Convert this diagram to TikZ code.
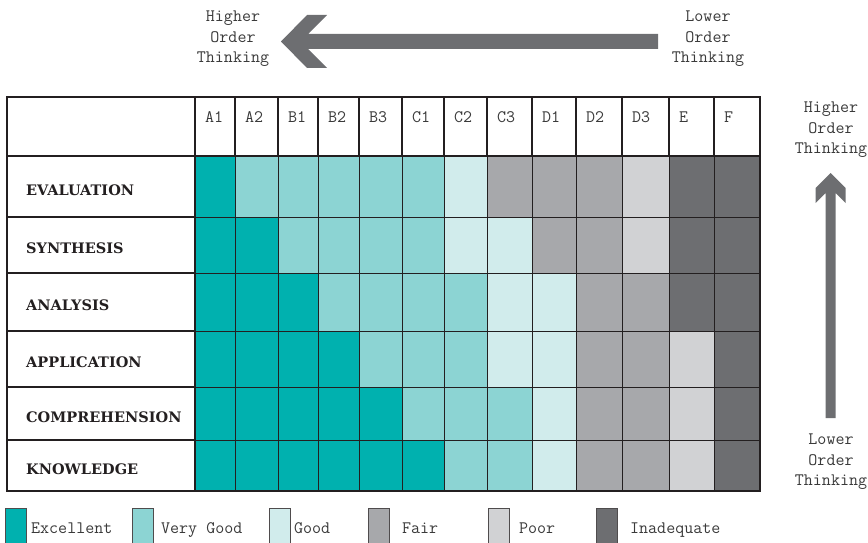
\documentclass[tikz,border=0pt]{standalone}
\usepackage{fontspec}
\newfontfamily\labelfont{DejaVu Serif}
\usetikzlibrary{calc}

\definecolor{ex}{HTML}{00B1AF}
\definecolor{vg}{HTML}{8CD4D3}
\definecolor{gd}{HTML}{D1ECEC}
\definecolor{fa}{HTML}{A7A8AB}
\definecolor{po}{HTML}{D1D2D4}
\definecolor{ia}{HTML}{6D6E71}
\definecolor{arrowgray}{HTML}{6D6E71}
\definecolor{txtgray}{HTML}{3A3A3A}
\definecolor{linegray}{HTML}{231F20}

\tikzset{
	lighttext/.style={font=\ttfamily\fontsize{17.5}{20.5}\selectfont, text=txtgray, inner sep=0pt},
	rowlabel/.style={font=\labelfont\bfseries\fontsize{14.5}{17}\selectfont, text=linegray, inner sep=0pt, anchor=base west},
	thinline/.style={draw=linegray, line width=0.9pt},
	heavyline/.style={draw=linegray, line width=1.8pt},
	swatch/.style={draw=linegray!80, line width=0.9pt},
}

\begin{document}
\begin{tikzpicture}[x=1pt,y=-1pt]

		\useasboundingbox (0,0) rectangle (868,543);

		%grid edges
		\def\colx{{195,235,278,318,359,402,444,487,532,576,622,669,714,760}}
		\def\rowy{{97,156,217,273,331,387,440,491}}

		%white background of the table
		\fill[white] (7,97) rectangle (760,491);

		%coloured cells, one row per level
		\foreach \pat [count=\r] in {
			{ex,vg,vg,vg,vg,vg,gd,fa,fa,fa,po,ia,ia},
			{ex,ex,vg,vg,vg,vg,gd,gd,fa,fa,po,ia,ia},
			{ex,ex,ex,vg,vg,vg,vg,gd,gd,fa,fa,ia,ia},
			{ex,ex,ex,ex,vg,vg,vg,gd,gd,fa,fa,po,ia},
			{ex,ex,ex,ex,ex,vg,vg,vg,gd,fa,fa,po,ia},
			{ex,ex,ex,ex,ex,ex,vg,vg,gd,fa,fa,po,ia}}
		{
			\foreach \c [count=\k] in \pat
			{
				\pgfmathsetmacro\xa{\colx[\k-1]}
				\pgfmathsetmacro\xb{\colx[\k]}
				\pgfmathsetmacro\ya{\rowy[\r]}
				\pgfmathsetmacro\yb{\rowy[\r+1]}
				\fill[\c] (\xa,\ya) rectangle (\xb,\yb);
			}
		}

		%thin lines between the coloured cells
		\foreach \k in {1,...,12}
		{
			\pgfmathsetmacro\xa{\colx[\k]}
			\draw[thinline] (\xa,156) -- (\xa,491);
		}
		\foreach \r in {2,...,6}
		{
			\pgfmathsetmacro\ya{\rowy[\r]}
			\draw[thinline] (195,\ya) -- (760,\ya);
		}

		%heavier lines of the header row and the label column
		\foreach \k in {1,...,12}
		{
			\pgfmathsetmacro\xa{\colx[\k]}
			\draw[heavyline] (\xa,97) -- (\xa,156);
		}
		\foreach \r in {2,...,6}
		{
			\pgfmathsetmacro\ya{\rowy[\r]}
			\draw[heavyline] (7,\ya) -- (195,\ya);
		}
		\draw[heavyline] (7,156) -- (760,156);
		\draw[heavyline] (195,97) -- (195,491);
		\draw[linegray, line width=2.4pt] (7,97) rectangle (760,491);

		%column headers
		\foreach \h [count=\k] in {A1,A2,B1,B2,B3,C1,C2,C3,D1,D2,D3,E,F}
		{
			\pgfmathsetmacro\xa{\colx[\k-1]}
			\node[lighttext, anchor=base west] (h\h) at (\xa+10,122) {\h};
		}

		%row labels
		\foreach \lab [count=\r] in {EVALUATION,SYNTHESIS,ANALYSIS,APPLICATION,COMPREHENSION,KNOWLEDGE}
		{
			\pgfmathsetmacro\ya{\rowy[\r]}
			\pgfmathsetmacro\yb{\rowy[\r+1]}
			\pgfmathsetmacro\ym{(\ya+\yb)/2+8.5}
			\node[rowlabel] (r\r) at (26,\ym) {\lab};
		}

		%thinking labels
		\node[lighttext, align=center] (hiTop) at (233,39) {Higher\\Order\\Thinking};
		\node[lighttext, align=center] (loTop) at (708,39) {Lower\\Order\\Thinking};
		\node[lighttext, align=center] (hiSide) at (831,130) {Higher\\Order\\Thinking};
		\node[lighttext, align=center] (loSide) at (831,462) {Lower\\Order\\Thinking};

		%big arrows, lower towards higher
		\coordinate (tipTop) at (281,41.5);
		\coordinate (endTop) at (658,41.5);
		\fill[arrowgray] (tipTop) -- ++(26,-26.5) -- ++(20,0) -- ++(-19,19) -- ($(endTop)+(0,-7.5)$)
			-- ($(endTop)+(0,7.5)$) -- ($(tipTop)+(27,7.5)$) -- ++(19,19) -- ++(-20,0) -- cycle;
		\coordinate (tipSide) at (830.5,173);
		\coordinate (endSide) at (830.5,418);
		\fill[arrowgray] (tipSide) -- ++(15,15) -- ++(0,15) -- ++(-10,-10) -- ($(endSide)+(5,0)$)
			-- ($(endSide)+(-5,0)$) -- ($(tipSide)+(-5,20)$) -- ++(-10,10) -- ++(0,-15) -- cycle;

		%legend
		\foreach \c/\txt/\xs/\xt in {ex/Excellent/5/31, vg/Very Good/132/161, gd/Good/269/294,
			fa/Fair/368/402, po/Poor/488/519, ia/Inadequate/596/630}
		{
			\filldraw[swatch, fill=\c] (\xs,508) rectangle (\xs+21,546);
			\node[lighttext, anchor=base west] (l\c) at (\xt,533) {\txt};
		}

\end{tikzpicture}
\end{document}
